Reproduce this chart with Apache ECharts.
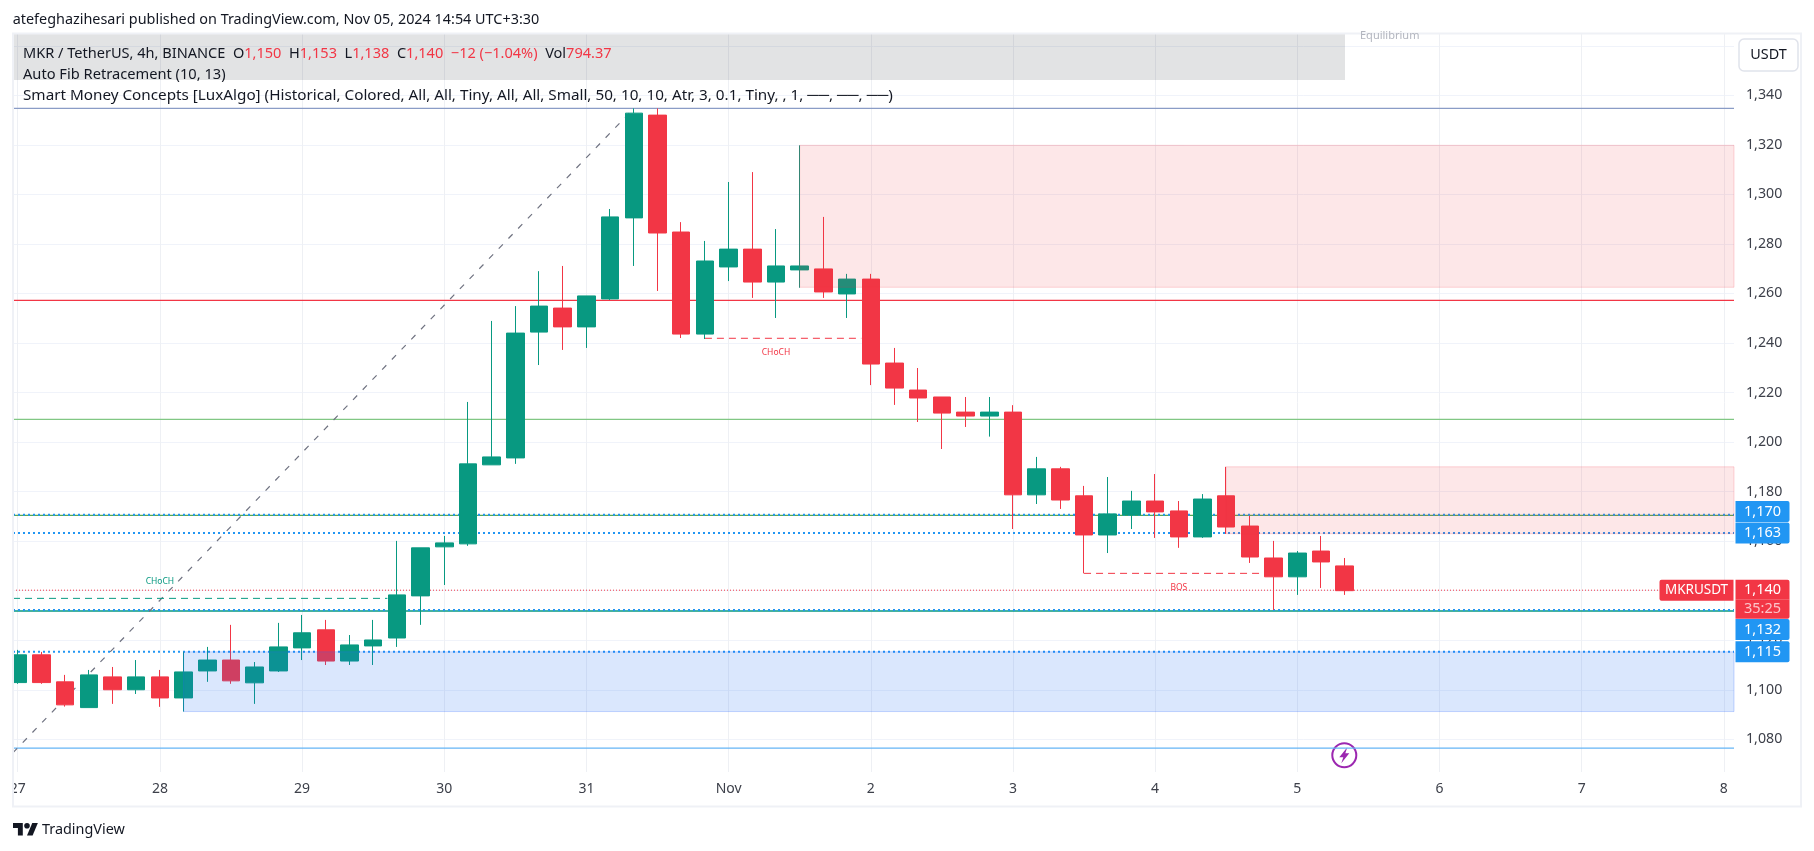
<!DOCTYPE html>
<html><head><meta charset="utf-8">
<style>html,body{margin:0;padding:0;background:#fff}#c{width:1814px;height:851px}</style>
<script src="https://cdn.jsdelivr.net/npm/echarts@6/dist/echarts.min.js"></script>
</head><body><div id="c"></div>
<script>
// OHLC of the 4h bars, index 0 = Oct 27 00:00
const opens  = [1102.9,1114.1,1103.2,1092.8,1105.2,1100,1105.2,1096.7,1107.6,1112,1102.8,1107.6,1116.9,1124.2,1111.6,1117.7,1120.9,1137.9,1157.7,1158.9,1190.8,1193.6,1244.4,1254.1,1246.5,1257.8,1290.5,1332,1284.8,1243.6,1270.7,1277.9,1264.6,1269.5,1269.9,1259.8,1265.8,1231.9,1221,1218.2,1212.1,1210.5,1212.1,1178.7,1189.2,1178.3,1162.5,1170.6,1176.2,1172.2,1161.7,1178.3,1166.1,1153.2,1145.6,1156,1150];
const closes = [1114.1,1102.9,1093.9,1106,1100,1105.2,1096.7,1107.2,1112,1103.6,1109.2,1117.3,1123,1111.6,1118.1,1120.1,1138.3,1157.3,1159.3,1191.2,1194,1244,1254.9,1246.5,1259,1290.9,1332.8,1284.4,1243.6,1273.1,1277.9,1264.6,1271.1,1271.1,1260.6,1265.8,1231.5,1221.8,1217.8,1211.7,1210.5,1212.1,1178.7,1189.2,1176.6,1162.5,1171,1176.2,1171.8,1161.7,1177,1165.7,1153.6,1145.6,1155.2,1151.6,1140];
const lows   = [1102.4,1102.4,1093.2,1092.8,1094.3,1098.3,1093.1,1091.2,1103.2,1102.4,1094.3,1107.2,1112,1110,1110,1110,1117.3,1126.2,1142.3,1158.1,1190.8,1191.2,1231.1,1237.2,1238,1257.4,1271.1,1261,1242,1241.6,1265,1258.2,1250.1,1262.3,1258.2,1250.1,1223,1215,1208.1,1197.2,1206.1,1202.2,1164.9,1175,1173,1147,1155.2,1164.9,1161.3,1157.3,1161.3,1162.9,1151.2,1132.2,1138.3,1141.1,1138.3];
const highs  = [1116.1,1115.3,1106,1108,1109.2,1112,1108,1115.3,1117.3,1126.2,1111.2,1127,1130.2,1128.2,1122.1,1128.2,1160.1,1157.3,1162.1,1216.2,1248.9,1254.9,1269,1271.1,1259,1294.1,1334.7,1334.7,1288.8,1281.2,1305,1309,1286,1319.8,1290.9,1267.9,1267.9,1238,1229.9,1218.2,1218.2,1218.2,1214.9,1194,1190,1182.3,1185.9,1180.3,1187.1,1176.2,1179,1190,1170.2,1160.1,1156,1162.1,1153.2];

const yGridValues = [1080,1100,1120,1140,1160,1180,1200,1220,1240,1260,1280,1300,1320,1340,1360];
const yTickLabels = [1080,1100,1120,1140,1160,1180,1200,1220,1240,1260,1280,1300,1320,1340];
const dayBars   = [0,6,12,18,24,30,36,42,48,54,60,66,72];
const dayLabels = ['27','28','29','30','31','Nov','2','3','4','5','6','7','8'];

// horizontal levels
const solidLevels  = [1334.7,1257.2,1209.2,1170.4,1131.8,1076.4];
const dottedLevels = [1170.7,1163.3,1132.2,1115.3];
const lastPrice = 1140.2;

// order-block zones: first bar, top, bottom
const zoneStart  = [33,51,7];
const zoneTop    = [1319.8,1190,1115.3];
const zoneBottom = [1262.5,1163,1091.2];

// structure breaks: first bar, last bar, level, label, label bar, label price
const breakFrom  = [-0.2,29,45];
const breakTo    = [15.6,35.6,52.6];
const breakLevel = [1136.9,1241.9,1147];
const breakNames = ['CHoCH','CHoCH','BOS'];
const breakLabelBar   = [6,32,49];
const breakLabelPrice = [1143.6,1236,1141.2];

// auto fib trend line
const fibBars   = [-0.2,26];
const fibPrices = [1074.6,1334.7];

// price badges
const badgeValues = [1170.4,1163.3,1132,1115.3];
const badgeTexts  = ['1,170','1,163','1,132','1,115'];
const symbolName = 'MKRUSDT';
const countdown  = '35:25';

const FONT = '"Noto Sans", sans-serif';
const UP = '#089981', DOWN = '#f23645', BLUE = '#2196f3', INK = '#131722', AXIS_INK = '#3d404a';
const X_MIN = -0.2, X_MAX = 72.43;
const BADGE_SHIFT = [-4,0,19,0];
const SOLID_COLORS = ['#8a9cc6',DOWN,'#81c784','#5aa84f',UP,'#64b5f6'];
const ZONE_FILL = ['rgba(242,54,69,0.12)','rgba(242,54,69,0.12)','rgba(33,110,243,0.17)'];
const ZONE_EDGE = ['rgba(242,54,69,0.2)','rgba(242,54,69,0.2)','rgba(41,98,255,0.25)'];
const CLEAR = {opacity:1,color:'rgba(0,0,0,0)'};

const hLine = (v,style)=>({type:'line',silent:true,symbol:'none',z:1,data:[[X_MIN,v],[X_MAX,v]],lineStyle:style});
const series = [];
solidLevels.forEach((v,i)=>series.push(hLine(v,{color:SOLID_COLORS[i],width:1.3})));
dottedLevels.forEach(v=>series.push(hLine(v,{color:BLUE,width:2,type:[2,3]})));
series.push(Object.assign(hLine(lastPrice,{color:DOWN,width:1,type:[1,2]}),{data:[[X_MIN,lastPrice],[69.3,lastPrice]]}));
series.push({type:'line',silent:true,symbol:'none',z:1,data:fibBars.map((b,i)=>[b,fibPrices[i]]),
  lineStyle:{color:'#6f7280',width:1.2,type:[6,8]}});
breakFrom.forEach((b,i)=>{
  const col = i===0?UP:DOWN;
  series.push({type:'line',silent:true,symbol:'none',z:1,data:[[b,breakLevel[i]],[breakTo[i],breakLevel[i]]],
    lineStyle:{color:col,width:1,type:[7,5]}});
  series.push({type:'scatter',silent:true,z:4,symbolSize:1,itemStyle:CLEAR,
    data:[[breakLabelBar[i],breakLabelPrice[i]]],
    label:{show:true,position:'inside',formatter:breakNames[i],color:col,fontSize:8.5,fontFamily:FONT}});
});
series.push({type:'candlestick',z:2,barWidth:18,clip:true,encode:{x:0,y:[1,2,3,4]},
  data:opens.map((o,i)=>[i,o,closes[i],lows[i],highs[i]]),
  itemStyle:{color:UP,color0:DOWN,borderColor:UP,borderColor0:DOWN,borderWidth:1}});
series.push({type:'line',silent:true,symbol:'none',z:3,data:[],
  markArea:{silent:true,z:3,data:zoneStart.map((s,i)=>[
    {xAxis:s,yAxis:zoneTop[i],itemStyle:{color:ZONE_FILL[i],borderColor:ZONE_EDGE[i],borderWidth:1}},
    {xAxis:X_MAX,yAxis:zoneBottom[i]}])}});
badgeValues.forEach((v,i)=>series.push({type:'scatter',silent:true,z:6,symbolSize:1,itemStyle:CLEAR,
  data:[[X_MAX,v]],
  label:{show:true,position:'right',distance:1,offset:[0,BADGE_SHIFT[i]],formatter:'{a|'+badgeTexts[i]+'}',
    rich:{a:{width:54,height:21,lineHeight:21,align:'center',color:'#fff',backgroundColor:BLUE,fontSize:14.5,borderRadius:[0,2,2,0],fontFamily:FONT}}}}));
series.push({type:'scatter',silent:true,z:7,symbolSize:1,itemStyle:CLEAR,data:[[X_MAX,lastPrice]],
  label:{show:true,position:'right',distance:1,offset:[0,9],formatter:'{a|1,140}\n{b|'+countdown+'}',
    rich:{a:{width:54,height:20,lineHeight:20,align:'center',color:'#fff',backgroundColor:DOWN,fontSize:14.5,borderRadius:[0,2,0,0],fontFamily:FONT},
          b:{width:54,height:19,lineHeight:19,align:'center',color:'#fbc4c9',backgroundColor:DOWN,fontSize:14.5,borderRadius:[0,0,2,0],fontFamily:FONT}}}});
series.push({type:'scatter',silent:true,z:7,symbolSize:1,itemStyle:CLEAR,data:[[X_MAX,lastPrice]],
  label:{show:true,position:'left',distance:0,formatter:'{a|'+symbolName+'}',
    rich:{a:{width:74,height:21,lineHeight:21,align:'center',color:'#fff',backgroundColor:DOWN,fontSize:13.5,borderRadius:[2,0,0,2],fontFamily:FONT}}}});

const txt = (x,y,text,o)=>({type:'text',x,y,z:30,silent:true,style:Object.assign({text,fill:INK,font:'14.4px '+FONT,textVerticalAlign:'middle'},o||{})});
const logoPoly = pts=>({type:'polygon',z:30,silent:true,x:13,y:820.2,scaleX:0.7,scaleY:0.7,shape:{points:pts},style:{fill:INK}});
const option = {
  animation:false, backgroundColor:'#fff',
  grid:{left:13,right:80,top:33,bottom:79,containLabel:false},
  xAxis:{type:'value',min:X_MIN,max:X_MAX,
    axisLine:{show:false},
    axisTick:{show:false,customValues:dayBars},
    splitLine:{show:true,lineStyle:{color:'#eef0f4',width:1}},
    axisLabel:{customValues:dayBars,margin:10,color:AXIS_INK,fontFamily:FONT,fontSize:14,hideOverlap:false,
      showMinLabel:true,showMaxLabel:true,
      formatter:v=>dayLabels[dayBars.indexOf(v)]}},
  yAxis:{type:'value',position:'right',min:1066.8,max:1365.15,
    axisLine:{show:false},
    axisTick:{show:false,customValues:yGridValues},
    splitLine:{show:true,lineStyle:{color:'#f0f3fa',width:1}},
    axisLabel:{customValues:yTickLabels,margin:12,color:AXIS_INK,fontFamily:FONT,fontSize:14.2,
      formatter:v=>String(v).replace(/(\d)(\d{3})$/,'$1,$2')}},
  series,
  graphic:[
    {type:'rect',z:20,silent:true,shape:{x:13,y:33,width:1332,height:47},style:{fill:'rgba(19,23,34,0.12)'}},
    txt(1360,36,'Equilibrium',{fill:'#b2b5be',font:'11px '+FONT}),
    {type:'rect',z:24,silent:true,shape:{x:0,y:24,width:1814,height:9},style:{fill:'#fff'}},
    {type:'rect',z:24,silent:true,shape:{x:0,y:33,width:12.5,height:772},style:{fill:'#fff'}},
    {type:'rect',z:25,silent:true,shape:{x:13,y:33.5,width:1788,height:773},style:{fill:'none',stroke:'#eff1f6',lineWidth:2}},
    txt(12.7,20,'atefeghazihesari published on TradingView.com, Nov 05, 2024 14:54 UTC+3:30'),
    {type:'text',x:23,y:54,z:30,silent:true,style:{
      text:'MKR / TetherUS, 4h, BINANCE  {k|O}{r|1,150}  {k|H}{r|1,153}  {k|L}{r|1,138}  {k|C}{r|1,140}  {r|−12 (−1.04%)}  {k|Vol}{r|794.37}',
      fill:INK,font:'14.55px '+FONT,textVerticalAlign:'middle',
      rich:{k:{fill:INK,font:'14.55px '+FONT},r:{fill:DOWN,font:'14.55px '+FONT}}}},
    txt(23,75,'Auto Fib Retracement (10, 13)',{font:'14.65px '+FONT}),
    txt(23,96,'Smart Money Concepts [LuxAlgo] (Historical, Colored, All, All, Tiny, All, All, Small, 50, 10, 10, Atr, 3, 0.1, Tiny, , 1, ──, ──, ──)',{font:'15.25px '+FONT}),
    {type:'rect',z:28,silent:true,shape:{x:1739,y:39,width:59,height:32,r:5},style:{fill:'#fff',stroke:'#e0e3eb',lineWidth:1.5}},
    txt(1768.5,54.5,'USDT',{textAlign:'center'}),
    {type:'group',x:1344.3,y:755.3,z:29,silent:true,children:[
      {type:'circle',shape:{cx:0,cy:0,r:12},style:{fill:'#fff',stroke:'#9c27b0',lineWidth:2}},
      {type:'polygon',shape:{points:[[3,-8],[-5,2],[-1,2],[-3,8],[5,-2],[1,-2]]},style:{fill:'#9c27b0'}}]},
    logoPoly([[0,4],[14,4],[14,22],[7,22],[7,11],[0,11]]),
    logoPoly([[20,22],[28,22],[35.5,4],[27.5,4]]),
    {type:'circle',x:13,y:820.2,scaleX:0.7,scaleY:0.7,z:30,silent:true,shape:{cx:20,cy:8,r:4},style:{fill:INK}},
    txt(42,830,'TradingView',{font:'14.4px '+FONT})
  ]
};
const chart = echarts.init(document.getElementById('c'),null,{renderer:'canvas'});
chart.setOption(option);
</script></body></html>
